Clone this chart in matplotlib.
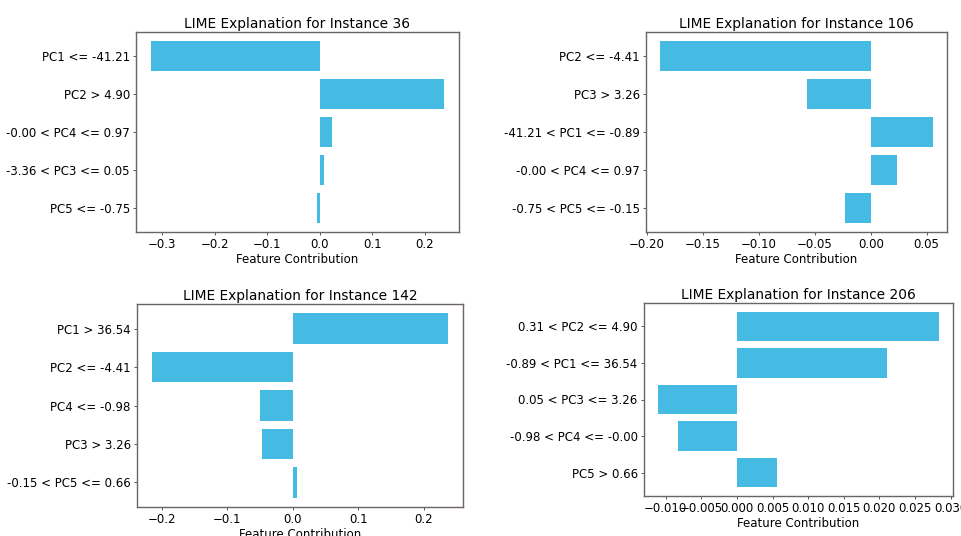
import matplotlib
matplotlib.use('Agg')
import matplotlib.pyplot as plt

# values (top bar first)
labels_36 = ['PC1 <= -41.21', 'PC2 > 4.90', '-0.00 < PC4 <= 0.97', '-3.36 < PC3 <= 0.05', 'PC5 <= -0.75']
vals_36 = [-0.322, 0.237, 0.0236, 0.007, -0.0045]

labels_106 = ['PC2 <= -4.41', 'PC3 > 3.26', '-41.21 < PC1 <= -0.89', '-0.00 < PC4 <= 0.97', '-0.75 < PC5 <= -0.15']
vals_106 = [-0.1887, -0.0571, 0.056, 0.0232, -0.0232]

labels_142 = ['PC1 > 36.54', 'PC2 <= -4.41', 'PC4 <= -0.98', 'PC3 > 3.26', '-0.15 < PC5 <= 0.66']
vals_142 = [0.237, -0.215, -0.0495, -0.0474, 0.0071]

labels_206 = ['0.31 < PC2 <= 4.90', '-0.89 < PC1 <= 36.54', '0.05 < PC3 <= 3.26', '-0.98 < PC4 <= -0.00', 'PC5 > 0.66']
vals_206 = [0.02836, 0.02108, -0.01108, -0.00822, 0.00559]

instances = [36, 106, 142, 206]
all_labels = [labels_36, labels_106, labels_142, labels_206]
all_vals = [vals_36, vals_106, vals_142, vals_206]

W, H = 962, 536
# axes boxes in pixels: left, right, top, bottom
boxes = [(136, 459, 32, 232),
         (646, 947, 32, 232),
         (137, 463, 304, 507),
         (644, 953, 303, 496)]
xticks = [[-0.3, -0.2, -0.1, 0.0, 0.1, 0.2],
          [-0.20, -0.15, -0.10, -0.05, 0.00, 0.05],
          [-0.2, -0.1, 0.0, 0.1, 0.2],
          [-0.010, -0.005, 0.000, 0.005, 0.010, 0.015, 0.020, 0.025, 0.030]]
fmts = ['%.1f', '%.2f', '%.1f', '%.3f']

bar_color = '#45BAE2'
fig = plt.figure(figsize=(W / 100, H / 100), dpi=100)

for i in range(4):
    l, r, t, b = boxes[i]
    ax = fig.add_axes([l / W, 1 - b / H, (r - l) / W, (b - t) / H])
    labs = all_labels[i][::-1]
    vals = all_vals[i][::-1]
    ax.barh(range(len(vals)), vals, height=0.8, color=bar_color)
    ax.set_yticks(range(len(labs)))
    ax.set_yticklabels(labs, fontsize=8.5)
    ax.set_xticks(xticks[i])
    ax.set_xticklabels([(fmts[i] % v).replace('-', '\u2212') for v in xticks[i]], fontsize=8.5)
    ax.set_xlabel('Feature Contribution', fontsize=8.5, labelpad=1)
    ax.set_title('LIME Explanation for Instance %d' % instances[i], fontsize=9.9, pad=3)
    ax.tick_params(length=2.5, width=0.7, pad=2, color='#555555')
    for s in ax.spines.values():
        s.set_color('#6b6460')
        s.set_linewidth(1.0)

fig.savefig('out.png', dpi=100)
